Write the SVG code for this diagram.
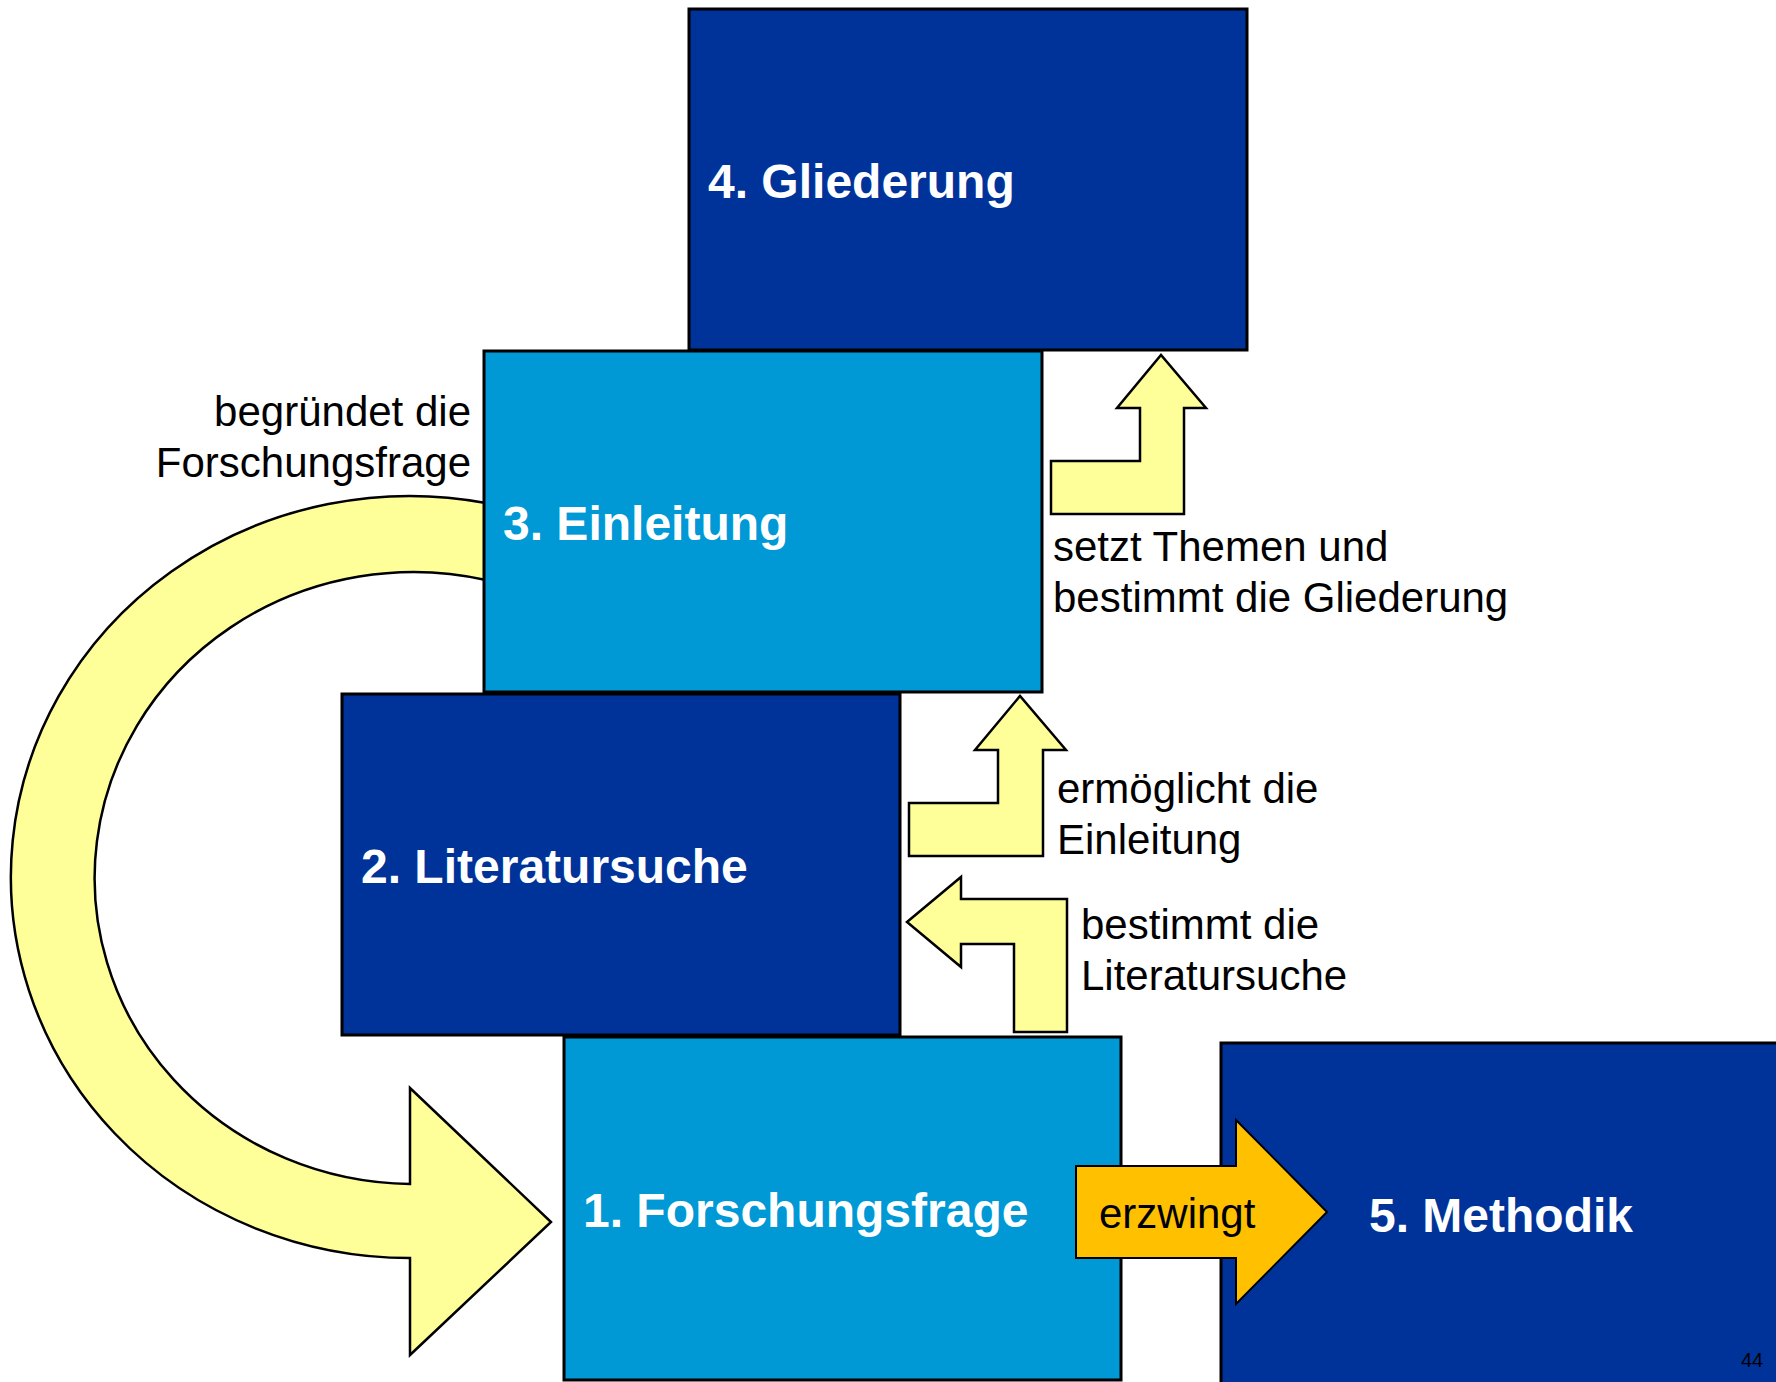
<svg xmlns="http://www.w3.org/2000/svg" width="1776" height="1382" viewBox="0 0 1776 1382">
<style>
.dark{fill:#003399;stroke:#000;stroke-width:3}
.light{fill:#0098D5;stroke:#000;stroke-width:3}
.title{font-family:"Liberation Sans",Arial,sans-serif;font-weight:bold;font-size:48px;fill:#fff}
.lbl{font-family:"Liberation Sans",Arial,sans-serif;font-size:42px;fill:#000}
.yarrow{fill:#FFFF99;stroke:#000;stroke-width:2.5;stroke-linejoin:miter}
.oarrow{fill:#FFC000;stroke:#000;stroke-width:2}
</style>
<rect width="1776" height="1382" fill="#fff"/>
<g id="connectors">
  <path id="curve-arrow" class="yarrow" d="M 486,503 A 399 381 0 1 0 410,1258 L 410,1355 L 551,1222 L 410,1088 L 410,1184 A 319 306 0 1 1 486,580 Z"/>
</g>
<g id="node4">
  <rect class="dark" x="689" y="9" width="558" height="341"/>
  <text class="title" x="708" y="198">4. Gliederung</text>
</g>
<g id="node3">
  <rect class="light" x="484" y="351" width="558" height="341"/>
  <text class="title" x="503" y="540">3. Einleitung</text>
</g>
<g id="node2">
  <rect class="dark" x="342" y="694" width="558" height="341"/>
  <text class="title" x="361" y="883">2. Literatursuche</text>
</g>
<g id="node1">
  <rect class="light" x="564" y="1037" width="557" height="343"/>
  <text class="title" x="583" y="1227">1. Forschungsfrage</text>
</g>
<g id="node5">
  <rect class="dark" x="1221" y="1043" width="560" height="345"/>
  <text class="title" x="1369" y="1232">5. Methodik</text>
</g>
<g id="connectors2">
  <polygon class="yarrow" points="1051,461 1140,461 1140,408 1117,408 1161,355 1206,408 1184,408 1184,514 1051,514"/>
  <polygon class="yarrow" points="909,803 998,803 998,750 975,750 1020,696 1066,750 1043,750 1043,856 909,856"/>
  <polygon class="yarrow" points="907,922 961,877 961,899 1067,899 1067,1032 1014,1032 1014,944 961,944 961,967"/>
  <polygon class="oarrow" points="1076,1166 1236,1166 1236,1120 1327,1212 1236,1304 1236,1258 1076,1258"/>
</g>
<g id="labels">
  <text class="lbl" x="471" y="426" text-anchor="end">begründet die</text>
  <text class="lbl" x="471" y="477" text-anchor="end">Forschungsfrage</text>
  <text class="lbl" x="1053" y="561">setzt Themen und</text>
  <text class="lbl" x="1053" y="612">bestimmt die Gliederung</text>
  <text class="lbl" x="1057" y="803">ermöglicht die</text>
  <text class="lbl" x="1057" y="854">Einleitung</text>
  <text class="lbl" x="1081" y="939">bestimmt die</text>
  <text class="lbl" x="1081" y="990">Literatursuche</text>
  <text class="lbl" x="1099" y="1228">erzwingt</text>
  <text x="1741" y="1367" font-family="Liberation Sans, Arial, sans-serif" font-size="20" fill="#000">44</text>
</g>
</svg>
